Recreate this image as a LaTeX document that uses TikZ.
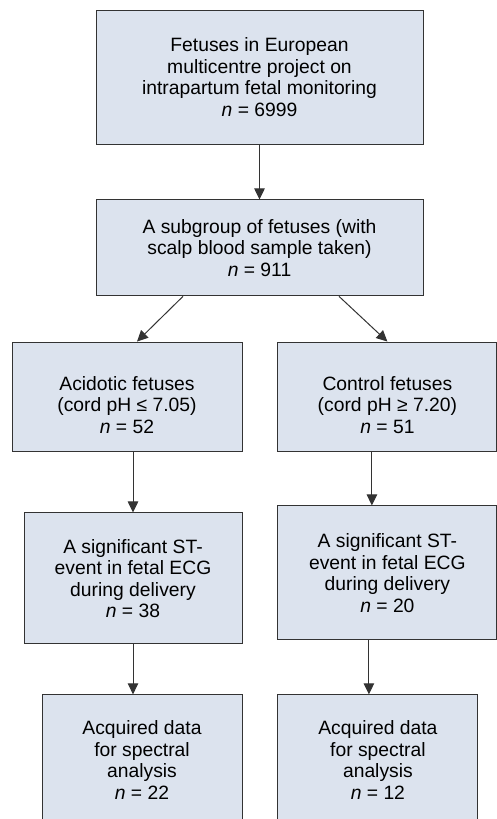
\documentclass[tikz,border=0pt]{standalone}
\usepackage{fontspec}
\setmainfont{Liberation Sans}
\usepackage{xcolor}
\usetikzlibrary{arrows.meta, positioning, calc}
\definecolor{cFill}{RGB}{220,227,238}
\definecolor{cEdge}{RGB}{51,51,51}
\tikzset{
	flowbox/.style  ={rectangle, draw=cEdge, line width=0.9pt, fill=cFill, align=center, inner sep=0pt},
	flowarrow/.style={-{Triangle[length=11pt, width=10.5pt]}, line width=1pt, draw=cEdge},
}

\begin{document}
\begin{tikzpicture}[x=1pt, y=-1pt, font=\fontsize{19.3}{21.5}\selectfont]
	\useasboundingbox (0,0) rectangle (497,819);
	\clip (0,0) rectangle (497,819);
	% cohort and subgroup
	\node[flowbox, minimum width=327pt, minimum height=134pt] (top) at (259.5,77) {Fetuses in European\\multicentre project on\\intrapartum fetal monitoring\\\textit{n} = 6999};
	\node[flowbox, minimum width=327pt, minimum height=96pt, below=55pt of top] (sub) {A subgroup of fetuses (with\\scalp blood sample taken)\\\textit{n} = 911};
	% two branches
	\node[flowbox, minimum width=230pt, minimum height=109pt] (acid) at (127,396.5) {\mbox{}\\[9.5pt]Acidotic fetuses\\(cord pH ≤ 7.05)\\\textit{n} = 52};
	\node[flowbox, minimum width=219pt, minimum height=109pt, right=35pt of acid] (ctrl) {\mbox{}\\[9.5pt]Control fetuses\\(cord pH ≥ 7.20)\\\textit{n} = 51};
	\node[flowbox, minimum width=218pt, minimum height=131pt, below=61pt of acid, xshift=6pt] (stA) {A significant ST-\\event in fetal ECG\\during delivery\\\textit{n} = 38};
	\node[flowbox, minimum width=219pt, minimum height=134pt, below=54pt of ctrl] (stC) {A significant ST-\\event in fetal ECG\\during delivery\\\textit{n} = 20};
	\node[flowbox, minimum width=200pt, minimum height=130pt, below=50pt of stA, xshift=9pt] (acqA) {Acquired data\\for spectral\\analysis\\\textit{n} = 22};
	\node[flowbox, minimum width=200pt, minimum height=130pt, below=54pt of stC, xshift=-9.5pt] (acqC) {Acquired data\\for spectral\\analysis\\\textit{n} = 12};
	% arrows
	\draw[flowarrow] (top) -- (sub);
	\draw[flowarrow] ($(sub.south)+(-76.5,0)$) -- ($(acid.north)+(10,0)$);
	\draw[flowarrow] ($(sub.south)+(79.5,0)$) -- (ctrl.north);
	\draw[flowarrow] ($(acid.south)+(6,0)$) -- (stA.north);
	\draw[flowarrow] ($(ctrl.south)+(-15.5,0)$) -- ($(stC.north)+(-15.5,0)$);
	\draw[flowarrow] (stA.south) -- (stA.south |- acqA.north);
	\draw[flowarrow] ($(stC.south)+(-18.5,0)$) -- ($(acqC.north)+(-9,0)$);
\end{tikzpicture}
\end{document}
